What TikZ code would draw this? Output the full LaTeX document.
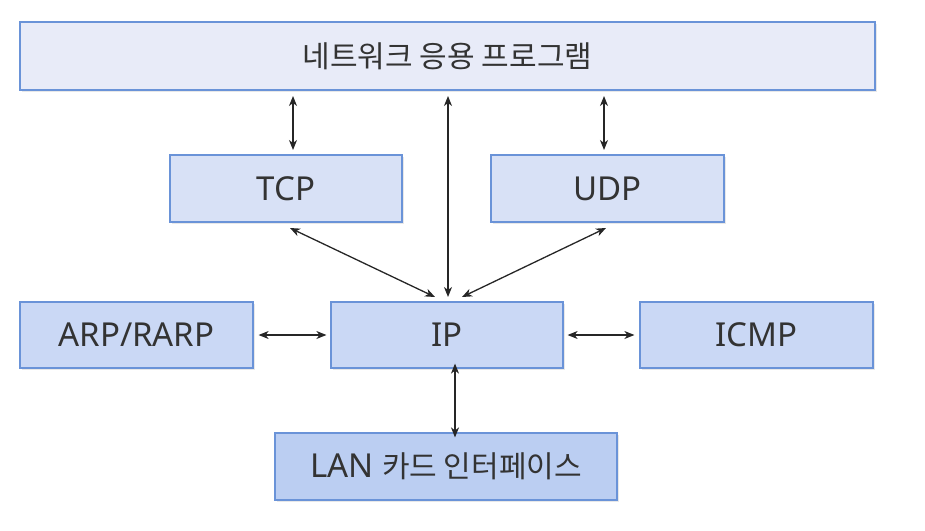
\documentclass[tikz,border=0pt]{standalone}
\usepackage{fontspec}
\setmainfont{Noto Sans}
\newfontfamily\kr{Noto Sans CJK KR}
\usetikzlibrary{arrows.meta,shadows}
\definecolor{bordc}{HTML}{6A93D8}
\definecolor{topc}{HTML}{E8EBF8}
\definecolor{midc}{HTML}{D8E1F6}
\definecolor{ipc}{HTML}{CAD8F5}
\definecolor{lanc}{HTML}{BBCEF2}
\definecolor{txtc}{HTML}{333333}
\begin{document}
\begin{tikzpicture}[x=1pt,y=-1pt,
  layerbox/.style={draw=bordc, line width=1.2pt, text=txtc, inner sep=0pt,
    drop shadow={opacity=0.18, shadow xshift=1.5pt, shadow yshift=-1.5pt},
    font=\fontsize{33}{38}\selectfont},
  krtext/.style={font=\kr\fontsize{30}{34}\selectfont},
  conn/.style={{Stealth[length=10pt,width=8pt,inset=3pt]}-{Stealth[length=10pt,width=8pt,inset=3pt]}, line width=1.3pt, black!85},
  ]
\useasboundingbox (0,0) rectangle (925,530);
\node[layerbox, fill=topc, minimum width=855pt, minimum height=68pt] (app) at (447.5,56) {\kr\fontsize{30}{34}\selectfont 네트워크 응용 프로그램};
\node[layerbox, fill=midc, minimum width=232pt, minimum height=67pt] (tcp) at (286,188.5) {TCP};
\node[layerbox, fill=midc, minimum width=233pt, minimum height=67pt] (udp) at (607.5,188.5) {UDP};
\node[layerbox, fill=ipc, minimum width=233pt, minimum height=66pt] (arp) at (136.5,335) {ARP/RARP};
\node[layerbox, fill=ipc, minimum width=232pt, minimum height=66pt] (ip) at (447,335) {IP};
\node[layerbox, fill=ipc, minimum width=233pt, minimum height=66pt] (icmp) at (756.5,335) {ICMP};
\node[layerbox, fill=lanc, minimum width=342pt, minimum height=67pt] (lan) at (446,466.5) {LAN {\kr\fontsize{30}{34}\selectfont 카드 인터페이스}};
% connectors
\coordinate (a1) at (293,96); \coordinate (t1) at (293,150);
\coordinate (a2) at (448,96); \coordinate (i2) at (448,297);
\coordinate (a3) at (604,96); \coordinate (u3) at (604,150);
\draw[conn] (a1) -- (t1);
\draw[conn] (a2) -- (i2);
\draw[conn] (a3) -- (u3);
\coordinate (tb) at (290,228); \coordinate (it) at (435,297);
\coordinate (ub) at (606,228); \coordinate (iu) at (462,297);
\draw[conn] (tb) -- (it);
\draw[conn] (ub) -- (iu);
\draw[conn] ([xshift=5pt]arp.east) -- ([xshift=-4pt]ip.west);
\draw[conn] ([xshift=4pt]ip.east) -- ([xshift=-5pt]icmp.west);
\draw[conn] ([xshift=8pt,yshift=5pt]ip.south) -- ([xshift=9pt,yshift=-5pt]lan.north);
\end{tikzpicture}
\end{document}
